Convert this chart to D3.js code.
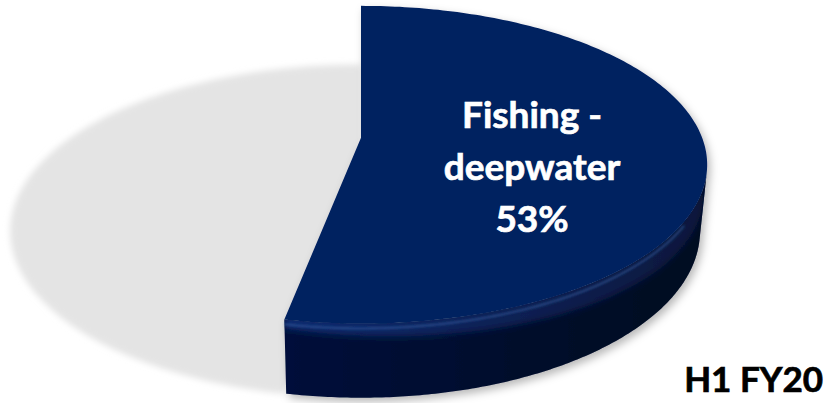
<!DOCTYPE html>
<html>
<head>
<meta charset="utf-8">
<script src="https://cdn.jsdelivr.net/npm/d3@7"></script>
<style>
  html, body { margin: 0; padding: 0; background: #ffffff; }
  svg { display: block; }
</style>
</head>
<body>
<svg id="chart" width="833" height="403"></svg>
<script>
// ---- data ----
const categories = ["Fishing - deepwater", "Other"];
const values = [53, 47];
const periodLabel = "H1 FY20";

// ---- styles ----
const sliceColors = ["#002060", "#e4e4e4"];
const wallColor = "#00113a", bevelColor = "#0b2a6e", glintColor = "#3d62a8";

const svg = d3.select("#chart");

// Perspective view of a tilted pie: angle 0 points away from the viewer.
const view = { cx: 361, cy: 203.5, focal: 1765, dist: 5.28, tilt: 29 * Math.PI / 180 };
const thickness = 0.22;
const baseStretch = 1.035;   // the flat base slice is drawn slightly wider
const cosT = Math.cos(view.tilt), sinT = Math.sin(view.tilt);

function project(a, r, z, sx = 1) {
  const x = r * Math.sin(a) * sx, y = r * Math.cos(a);
  const w = view.dist + y * cosT - z * sinT;
  return [view.cx + view.focal * x / w, view.cy - view.focal * (y * sinT + z * cosT) / w];
}
function rim(a0, a1, z, n, sx = 1) {
  return d3.range(n + 1).map(i => project(a0 + (a1 - a0) * i / n, 1, z, sx));
}
const poly = pts => d3.line()(pts) + "Z";

const arcs = d3.pie().sort(null).value(d => d)(values);
const total = d3.sum(values);

// ---- defs ----
const defs = svg.append("defs");
defs.append("filter").attr("id", "soft")
  .attr("x", "-10%").attr("y", "-10%").attr("width", "120%").attr("height", "120%")
  .append("feGaussianBlur").attr("stdDeviation", 3.4);

const shadow = defs.append("filter").attr("id", "shadow")
  .attr("x", "-10%").attr("y", "-10%").attr("width", "125%").attr("height", "125%");
shadow.append("feDropShadow").attr("dx", 3).attr("dy", 4).attr("stdDeviation", 4.5)
  .attr("flood-color", "#000").attr("flood-opacity", 0.28);

defs.append("filter").attr("id", "bevelBlur")
  .attr("x", "-5%").attr("y", "-20%").attr("width", "110%").attr("height", "140%")
  .append("feGaussianBlur").attr("stdDeviation", 3);
defs.append("filter").attr("id", "glint")
  .append("feGaussianBlur").attr("stdDeviation", 1.1);

// ---- flat slices on the base plane ----
arcs.slice(1).forEach((d, i) => {
  const pts = [project(0, 0, 0), ...rim(d.startAngle, d.endAngle, 0, 160, baseStretch)];
  svg.append("path")
    .attr("d", poly(pts))
    .attr("fill", sliceColors[i + 1])
    .attr("filter", "url(#soft)");
});

// ---- raised slice ----
const lead = arcs[0];
const g = svg.append("g").attr("filter", "url(#shadow)");

// outer wall: only the part that faces the viewer
const aVis = Math.acos(-1 / (view.dist * cosT));
const w0 = Math.max(lead.startAngle, aVis);
const w1 = Math.min(lead.endAngle, 2 * Math.PI - aVis);
const wallPts = [...rim(w0, w1, thickness, 160), ...rim(w0, w1, 0, 160).reverse()];

defs.append("clipPath").attr("id", "wallClip")
  .append("path").attr("d", poly(wallPts));

g.append("path").attr("d", poly(wallPts)).attr("fill", wallColor);

// rounded upper edge of the wall: wider toward the right-hand silhouette
const n = 120;
const bevelDepth = t => thickness * (0.45 - 0.33 * t);   // t = 0 at right, 1 at front
const upper = d3.range(n + 1).map(i => project(w0 + (w1 - w0) * i / n, 1, thickness + 0.02));
const lower = d3.range(n + 1).map(i => {
  const t = i / n;
  return project(w0 + (w1 - w0) * t, 1, thickness - bevelDepth(t));
}).reverse();
g.append("g").attr("clip-path", "url(#wallClip)")
  .append("path")
  .attr("d", poly([...upper, ...lower]))
  .attr("fill", bevelColor)
  .attr("filter", "url(#bevelBlur)");

// darkening toward the right of the wall
const xl = project(w1, 1, 0)[0], xr = project(w0, 1, thickness)[0];
const shade = defs.append("linearGradient").attr("id", "wallShade")
  .attr("gradientUnits", "userSpaceOnUse")
  .attr("x1", xl).attr("x2", xr).attr("y1", 0).attr("y2", 0);
shade.append("stop").attr("offset", 0).attr("stop-color", "#000").attr("stop-opacity", 0);
shade.append("stop").attr("offset", 1).attr("stop-color", "#000").attr("stop-opacity", 0.45);
g.append("path").attr("d", poly(wallPts)).attr("fill", "url(#wallShade)");

// top face
g.append("path")
  .attr("d", poly([project(0, 0, thickness), ...rim(lead.startAngle, lead.endAngle, thickness, 200)]))
  .attr("fill", sliceColors[0]);

// soft highlight along the front rim
g.append("path")
  .attr("d", d3.line()(rim(w0 + 0.3, w1, thickness - 0.014, 80)))
  .attr("fill", "none").attr("stroke", glintColor).attr("stroke-width", 2.4)
  .attr("stroke-opacity", 0.5).attr("filter", "url(#glint)");

// ---- labels ----
const pct = Math.round(values[0] / total * 100) + "%";
const parts = categories[0].split(" - ");
const lines = [parts[0] + " -", parts[1], pct];
const label = svg.append("text")
  .attr("x", 532).attr("y", 128)
  .attr("text-anchor", "middle")
  .attr("fill", "#ffffff")
  .attr("stroke", "#ffffff").attr("stroke-width", 0.7)
  .style("font-family", "Lato, 'Open Sans', sans-serif")
  .style("font-weight", 700)
  .style("font-size", "37px");
lines.forEach((t, i) => label.append("tspan").attr("x", 532).attr("dy", i === 0 ? 0 : 52).text(t));

svg.append("text")
  .attr("x", 823).attr("y", 392)
  .attr("text-anchor", "end")
  .attr("fill", "#000000")
  .attr("stroke", "#000000").attr("stroke-width", 0.7)
  .style("font-family", "Lato, 'Open Sans', sans-serif")
  .style("font-weight", 700)
  .style("font-size", "35px")
  .text(periodLabel);
</script>
</body>
</html>
